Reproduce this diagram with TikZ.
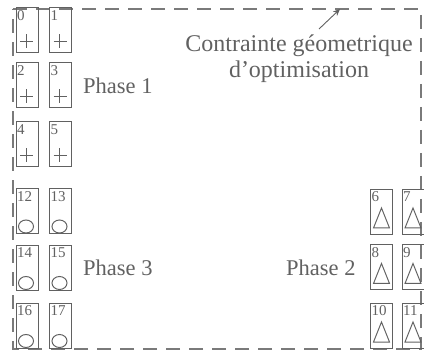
\documentclass[tikz,border=0pt]{standalone}
\usepackage{fontspec}
\setmainfont{Liberation Serif}
\usepackage{tikz}
\usepackage{xcolor}
\usetikzlibrary{arrows.meta}

\definecolor{inkgray}{gray}{0.38}
\definecolor{framegray}{gray}{0.48}

\tikzset{
  cell/.style={draw=inkgray, line width=1pt, minimum width=22pt, minimum height=45pt, inner sep=0pt},
  num/.style={font=\fontsize{15}{15}\selectfont, text=inkgray, anchor=north west, inner sep=0pt},
  phase/.style={font=\fontsize{22.5}{25}\selectfont, text=inkgray, inner sep=0pt},
  frame/.style={draw=framegray, line width=2.8pt, dash pattern=on 14pt off 9pt},
  sym/.style={draw=inkgray, line width=1pt}
}

\begin{document}
\begin{tikzpicture}[x=1pt,y=-1pt]
  \useasboundingbox (0,0) rectangle (424,353);
  % zone d'optimisation
  \coordinate (TL) at (13,9);
  \coordinate (TR) at (421,9);
  \coordinate (BR) at (421,349);
  \coordinate (BL) at (13,349);
  \draw[frame] (TL) -- (TR) -- (BR) -- (BL) -- cycle;

  % phase 1
  \foreach \n/\x/\y in {0/27/30.5, 1/60.5/30.5, 2/27/85.5, 3/60.5/85.5, 4/27/144.5, 5/60.5/144.5} {
    \node[cell] (b\n) at (\x,\y) {};
    \node[num] (n\n) at ([shift={(1.5,2.5)}]b\n.north west) {\n};
    \draw[sym] ([shift={(-7,11)}]b\n.center) -- ([shift={(6,11)}]b\n.center)
               ([shift={(-1,4)}]b\n.center) -- ([shift={(-1,18)}]b\n.center);
  }
  % phase 3
  \foreach \n/\x/\y in {12/27/211.5, 13/60.5/211.5, 14/27/268, 15/60.5/268, 16/27/326, 17/60.5/326} {
    \node[cell] (b\n) at (\x,\y) {};
    \node[num] (n\n) at ([shift={(1.5,2.5)}]b\n.north west) {\n};
    \draw[sym] ([shift={(-1,15)}]b\n.center) ellipse [x radius=7.5, y radius=6.5];
  }
  % phase 2
  \foreach \n/\x/\y in {6/381.5/212, 7/413/212, 8/381.5/267.5, 9/413/267.5, 10/381.5/326, 11/413/326} {
    \node[cell] (b\n) at (\x,\y) {};
    \node[num] (n\n) at ([shift={(1.5,2.5)}]b\n.north west) {\n};
    \draw[sym] ([shift={(0,-4)}]b\n.center) -- ([shift={(8,16)}]b\n.center)
               -- ([shift={(-8,16)}]b\n.center) -- cycle;
  }

  \node[phase, anchor=west] (p1) at (83,86) {Phase 1};
  \node[phase, anchor=west] (p3) at (83,268) {Phase 3};
  \node[phase, anchor=west] (p2) at (286,268) {Phase 2};

  \node[phase, font=\fontsize{24}{26}\selectfont, align=center] (ctr) at (299,59) {Contrainte géometrique\\d’optimisation};
  \coordinate (tail) at (319,29);
  \coordinate (tip) at (340,9);
  \draw[-{Stealth[length=7pt,width=6pt]}, draw=inkgray, line width=0.9pt] (tail) -- (tip);
\end{tikzpicture}
\end{document}
